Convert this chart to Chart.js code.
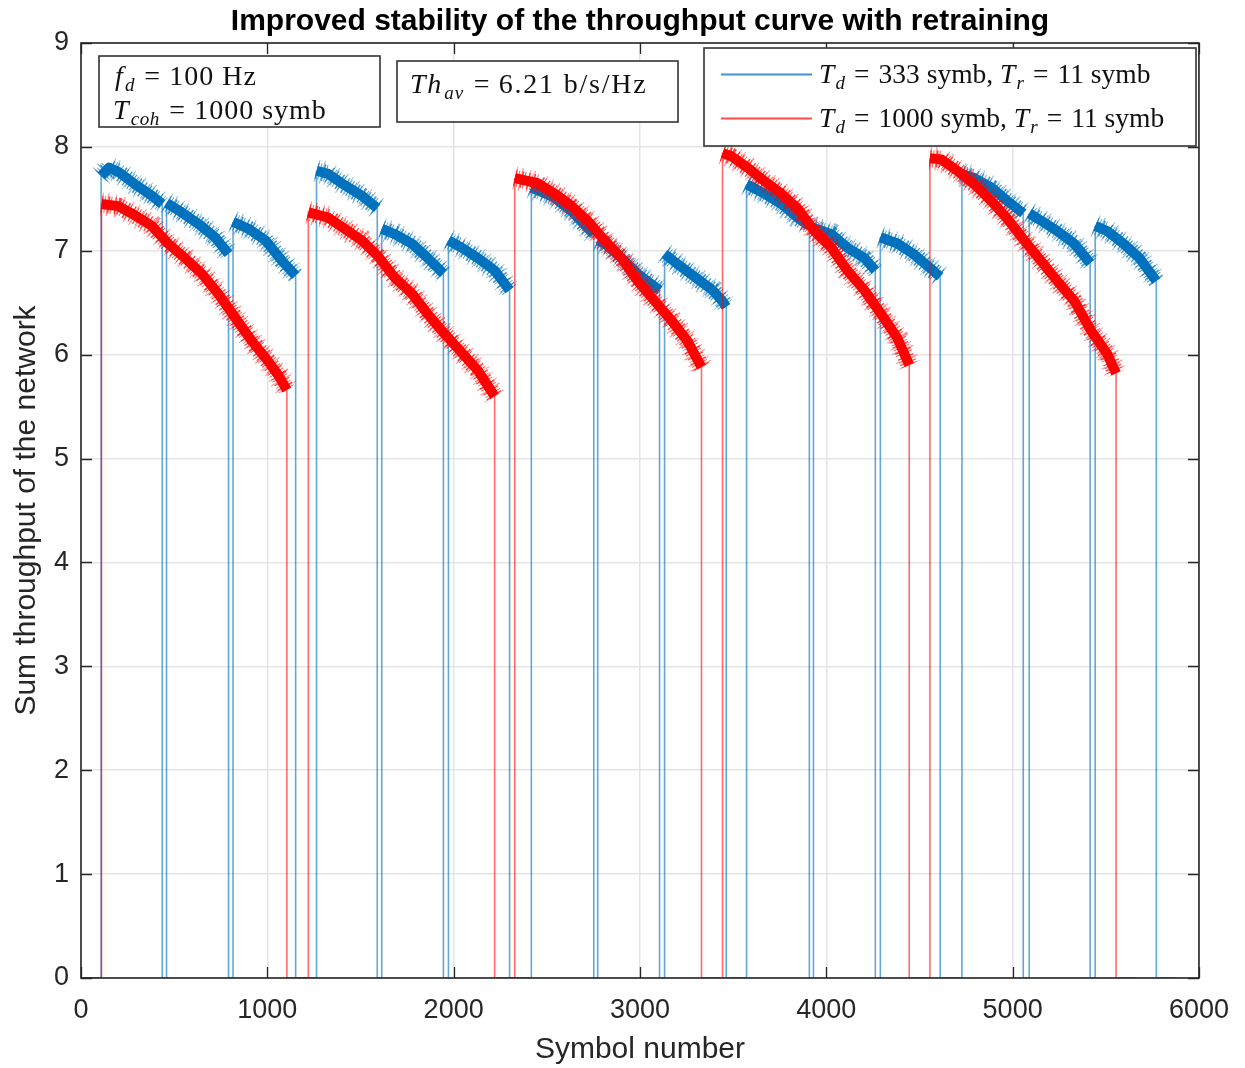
<!DOCTYPE html>
<html><head><meta charset="utf-8">
<script src="https://cdn.jsdelivr.net/npm/chart.js@4.4.0/dist/chart.umd.min.js"></script>
<style>html,body{margin:0;padding:0;background:#fff;}</style>
</head><body>
<canvas id="c" width="1245" height="1068"></canvas>
<script>
// ---------- data ----------
const chartTitle = 'Improved stability of the throughput curve with retraining';
const xLabel = 'Symbol number';
const yLabel = 'Sum throughput of the network';
const xTicks = [0, 1000, 2000, 3000, 4000, 5000, 6000];
const yTicks = [0, 1, 2, 3, 4, 5, 6, 7, 8, 9];

// Td = 333 symb, Tr = 11 symb (blue)
const blueSym = [0,108, 108,150,200,290,380,436, 436,459, 459,540,630,720,792, 792,816, 816,900,990,1080,1152, 1152,1264,
  1264,1326,1416,1507,1590, 1590,1614, 1614,1684,1775,1861,1945, 1945,1972, 1972,2043,2129,2220,2300, 2300,2417,
  2417,2542,2633,2719,2752, 2752,2773, 2773,2810,2901,2987,3105, 3105,3132, 3132,3210,3300,3390,3440,3463, 3463,3572,
  3572,3668,3759,3845,3909, 3909,3931, 3931,4027,4113,4204,4263, 4263,4290, 4290,4381,4467,4553,4611, 4611,4728,
  4728,4794,4885,4971,5057, 5057,5089, 5089,5153,5239,5330,5416, 5416,5443, 5443,5507,5594,5680,5771, 5771,5873];
const blueThr = [0,0, 7.72,7.80,7.76,7.64,7.53,7.45, 0,0, 7.46,7.37,7.26,7.13,6.97, 0,0, 7.28,7.21,7.10,6.90,6.76, 0,0,
  7.77,7.74,7.63,7.53,7.41, 0,0, 7.21,7.16,7.07,6.93,6.78, 0,0, 7.10,7.03,6.93,6.81,6.62, 0,0,
  7.61,7.51,7.38,7.22,7.16, 0,0, 7.10,7.07,6.93,6.78,6.62, 0,0, 6.97,6.86,6.74,6.62,6.52,6.46, 0,0,
  7.64,7.55,7.45,7.32,7.24, 0,0, 7.22,7.16,7.03,6.93,6.81, 0,0, 7.13,7.07,6.97,6.84,6.75, 0,0,
  7.74,7.70,7.61,7.48,7.36, 0,0, 7.36,7.29,7.19,7.07,6.88, 0,0, 7.24,7.19,7.07,6.93,6.71, 0,0];

// Td = 1000 symb, Tr = 11 symb (red)
const redSym = [0,110, 110,200,290,380,467,558,648,735,826,917,1003,1060,1105, 1105,1220,
  1220,1326,1416,1507,1593,1684,1775,1861,1952,2043,2129,2220, 2220,2328,
  2328,2451,2542,2633,2719,2810,2901,2987,3078,3169,3255,3330, 3330,3443,
  3443,3491,3577,3668,3759,3845,3936,4027,4113,4204,4295,4381,4445, 4445,4556,
  4556,4617,4703,4794,4885,4971,5062,5153,5239,5330,5421,5507,5555, 5555,5665];
const redThr = [0,0, 7.45,7.43,7.34,7.24,7.07,6.93,6.78,6.59,6.36,6.13,5.94,5.80,5.66, 0,0,
  7.37,7.32,7.21,7.10,6.95,6.74,6.59,6.39,6.20,6.02,5.85,5.60, 0,0,
  7.70,7.65,7.55,7.43,7.29,7.10,6.93,6.71,6.52,6.33,6.13,5.88, 0,0,
  7.94,7.91,7.80,7.67,7.55,7.41,7.19,7.03,6.81,6.62,6.39,6.16,5.90, 0,0,
  7.89,7.88,7.77,7.64,7.48,7.31,7.10,6.90,6.71,6.52,6.23,6.01,5.82, 0,0];

// annotation texts
const boxFd = [['f','i'],['d','sub'],['=','op'],['100 Hz','r']];
const boxTcoh = [['T','i'],['coh','sub'],['=','op'],['1000 symb','r']];
const boxTh = [['Th','i'],['av','sub'],['=','op'],['6.21 b/s/Hz','r']];
const legBlue = [['T','i'],['d','sub'],['=','op'],['333 symb, ','r'],['T','i'],['r','sub'],['=','op'],['11 symb','r']];
const legRed = [['T','i'],['d','sub'],['=','op'],['1000 symb, ','r'],['T','i'],['r','sub'],['=','op'],['11 symb','r']];

// ---------- build ----------
function zip(xs, ys) {
  if (xs.length !== ys.length) console.error('length mismatch', xs.length, ys.length);
  return xs.map((x, i) => ({x, y: ys[i]}));
}
const bluePts = zip(blueSym, blueThr);
const redPts = zip(redSym, redThr);

const BLUE = '#0072BD', BLUE_THIN = 'rgba(0,114,189,0.62)';
const RED = '#FF0000', RED_THIN = 'rgba(255,0,0,0.58)';
const isThin = c => c.p0.parsed.y === 0 || c.p1.parsed.y === 0;
const TXT = '#262626';
const SANS = '"Liberation Sans", Arial, Helvetica, sans-serif';
const SERIF = '"Liberation Serif", "Times New Roman", serif';
const CLEAR = 'rgba(0,0,0,0)';

function mainSet(label, data, color, thin, order) {
  return {label, data, borderColor: color, borderWidth: 10, pointRadius: 0, tension: 0, fill: false,
    borderCapStyle: 'butt', borderJoinStyle: 'round', order,
    segment: {borderWidth: c => isThin(c) ? 1.6 : undefined, borderColor: c => isThin(c) ? thin : undefined}};
}
// jagged "noise" fringe drawn as an irregular dash pattern across a wider stroke
function fringeSet(label, data, color, width, dash, order) {
  return {label, data, borderColor: color, borderWidth: width, borderDash: dash, pointRadius: 0, tension: 0, fill: false,
    borderCapStyle: 'butt', borderJoinStyle: 'round', order,
    segment: {borderColor: c => isThin(c) ? CLEAR : undefined, borderWidth: c => isThin(c) ? 0.01 : undefined}};
}
const dashA = [1.2, 1.8, 0.8, 2.6, 1.6, 1.2, 0.9, 3.1, 1.3, 2.2, 0.7, 1.5];
const dashB = [1, 4.5, 1.2, 7, 0.9, 3.5, 1.1, 9, 1, 5.5, 0.8, 6.5];

function drawRuns(ctx, x, y, runs, size, sp) {
  ctx.textBaseline = 'alphabetic';
  ctx.textAlign = 'left';
  for (const [t, s] of runs) {
    ctx.letterSpacing = '0px';
    if (s === 'op') {
      ctx.font = `${size}px ${SERIF}`;
      x += size * 0.33;
      ctx.fillText(t, x, y);
      x += ctx.measureText(t).width + size * 0.33;
    } else if (s === 'sub') {
      const fs = Math.round(size * 0.68);
      ctx.font = `italic ${fs}px ${SERIF}`;
      ctx.letterSpacing = (sp * 0.6) + 'px';
      ctx.fillText(t, x, y + size * 0.2);
      x += ctx.measureText(t).width;
    } else if (s === 'i') {
      ctx.font = `italic ${size}px ${SERIF}`;
      ctx.letterSpacing = sp + 'px';
      ctx.fillText(t, x, y);
      x += ctx.measureText(t).width + size * 0.04;
    } else {
      ctx.font = `${size}px ${SERIF}`;
      ctx.letterSpacing = sp + 'px';
      ctx.fillText(t, x, y);
      x += ctx.measureText(t).width;
    }
  }
  ctx.letterSpacing = '0px';
}

const framePlugin = {
  id: 'frame',
  afterDraw(chart) {
    const {ctx, chartArea: a, scales: {x, y}} = chart;
    ctx.save();
    ctx.strokeStyle = TXT;
    ctx.lineWidth = 1.3;
    const L = 11;
    ctx.beginPath();
    xTicks.forEach(v => {
      const px = Math.round(x.getPixelForValue(v)) + 0.5;
      ctx.moveTo(px, a.bottom); ctx.lineTo(px, a.bottom - L);
      ctx.moveTo(px, a.top); ctx.lineTo(px, a.top + L);
    });
    yTicks.forEach(v => {
      const py = Math.round(y.getPixelForValue(v)) + 0.5;
      ctx.moveTo(a.left, py); ctx.lineTo(a.left + L, py);
      ctx.moveTo(a.right, py); ctx.lineTo(a.right - L, py);
    });
    ctx.stroke();
    ctx.lineWidth = 1.6;
    ctx.strokeRect(a.left, a.top, a.right - a.left, a.bottom - a.top);

    const box = (x0, y0, x1, y1) => {
      ctx.fillStyle = '#fff';
      ctx.fillRect(x0, y0, x1 - x0, y1 - y0);
      ctx.strokeStyle = '#333';
      ctx.lineWidth = 1.6;
      ctx.strokeRect(x0, y0, x1 - x0, y1 - y0);
    };
    box(99, 56, 380, 127);
    ctx.fillStyle = '#111';
    drawRuns(ctx, 115, 85, boxFd, 28, 1);
    drawRuns(ctx, 113, 119, boxTcoh, 28, 1);
    box(397, 61, 678, 122);
    ctx.fillStyle = '#111';
    drawRuns(ctx, 410, 93, boxTh, 28, 1.8);

    box(704, 48, 1196, 146);
    ctx.lineWidth = 2;
    ctx.strokeStyle = 'rgba(0,114,189,0.75)';
    ctx.beginPath(); ctx.moveTo(721, 74.5); ctx.lineTo(812, 74.5); ctx.stroke();
    ctx.strokeStyle = 'rgba(255,0,0,0.7)';
    ctx.beginPath(); ctx.moveTo(721, 118.5); ctx.lineTo(812, 118.5); ctx.stroke();
    ctx.fillStyle = '#111';
    drawRuns(ctx, 819, 83, legBlue, 27.5, 0);
    drawRuns(ctx, 819, 127, legRed, 27.5, 0);
    ctx.restore();
  }
};

new Chart(document.getElementById('c'), {
  type: 'line',
  data: {
    datasets: [
      mainSet('T_d = 1000 symb, T_r = 11 symb', redPts, RED, RED_THIN, 0),
      fringeSet('red fringe', redPts, 'rgba(255,0,0,0.75)', 17, dashA, 1),
      fringeSet('red fringe 2', redPts, 'rgba(255,0,0,0.45)', 23, dashB, 2),
      mainSet('T_d = 333 symb, T_r = 11 symb', bluePts, BLUE, BLUE_THIN, 3),
      fringeSet('blue fringe', bluePts, 'rgba(0,114,189,0.75)', 17, dashA, 4),
      fringeSet('blue fringe 2', bluePts, 'rgba(0,114,189,0.45)', 23, dashB, 5)
    ]
  },
  options: {
    responsive: false,
    animation: false,
    events: [],
    layout: {padding: {left: 0, right: 45, top: 0, bottom: 0}},
    plugins: {
      legend: {display: false},
      tooltip: {enabled: false},
      title: {display: true, text: chartTitle, fullSize: false, color: '#000',
        font: {family: SANS, size: 30, weight: 'bold', lineHeight: 1.2}, padding: {top: 4, bottom: 3}}
    },
    scales: {
      x: {
        type: 'linear', min: 0, max: 6000,
        afterFit: s => { s.height = 90; },
        afterBuildTicks: s => { s.ticks = xTicks.map(v => ({value: v})); },
        ticks: {color: TXT, font: {family: SANS, size: 27}, padding: 16, maxRotation: 0, callback: v => String(v)},
        grid: {color: '#e4e4e4', lineWidth: 1.5, drawTicks: false},
        border: {display: false},
        title: {display: true, text: xLabel, color: TXT, font: {family: SANS, size: 30, lineHeight: 1.2}, padding: {top: 0, bottom: 0}}
      },
      y: {
        type: 'linear', min: 0, max: 9,
        afterFit: s => { s.width = 81; },
        afterBuildTicks: s => { s.ticks = yTicks.map(v => ({value: v})); },
        ticks: {color: TXT, font: {family: SANS, size: 27}, padding: 12, callback: v => String(v)},
        grid: {color: '#e4e4e4', lineWidth: 1.5, drawTicks: false},
        border: {display: false},
        title: {display: true, text: yLabel, color: TXT, font: {family: SANS, size: 30, lineHeight: 1.2}, padding: {top: 9, bottom: 0}}
      }
    }
  },
  plugins: [framePlugin]
});
</script>
</body></html>
